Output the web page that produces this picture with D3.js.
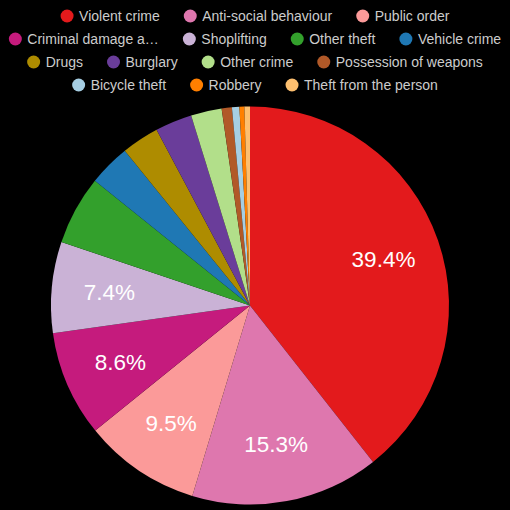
<!DOCTYPE html>
<html>
<head>
<meta charset="utf-8">
<script src="https://cdn.jsdelivr.net/npm/d3@7"></script>
<style>
  body { margin: 0; background: #000; }
  svg { display: block; }
</style>
</head>
<body>
<div id="chart"></div>
<script>
const categories = ["Violent crime", "Anti-social behaviour", "Public order", "Criminal damage and arson",
    "Shoplifting", "Other theft", "Vehicle crime", "Drugs", "Burglary", "Other crime",
    "Possession of weapons", "Bicycle theft", "Robbery", "Theft from the person"];
const shares = [39.4, 15.3, 9.5, 8.6, 7.4, 5.6, 3.4, 3.05, 3.0, 2.5, 0.83, 0.6, 0.4, 0.45];
const colours = ["#e31a1c", "#de77ae", "#fb9a99", "#c51b7d", "#cab2d6", "#33a02c", "#1f78b4",
    "#ae8c00", "#6a3d9a", "#b2df8a", "#b15928", "#a6cee3", "#ff7f00", "#fdbf6f"];

const width = 510, height = 510;
const cx = 250, cy = 305.5, radius = 199;

const data = categories.map((c, i) => ({ name: c, value: shares[i], colour: colours[i] }));

const svg = d3.select("#chart").append("svg")
    .attr("width", width)
    .attr("height", height)
    .style("background", "#000");

const pie = d3.pie().value(d => d.value).sort(null);
const arc = d3.arc().innerRadius(0).outerRadius(radius);
const labelArc = d3.arc().innerRadius(radius * 0.71).outerRadius(radius * 0.71);

const g = svg.append("g").attr("transform", `translate(${cx},${cy})`);
const arcs = pie(data);

g.selectAll("path")
    .data(arcs)
    .enter().append("path")
    .attr("d", arc)
    .attr("fill", d => d.data.colour);

g.selectAll("text")
    .data(arcs.filter(d => d.data.value > 7))
    .enter().append("text")
    .attr("transform", d => `translate(${labelArc.centroid(d)})`)
    .attr("text-anchor", "middle")
    .attr("dy", "0.35em")
    .attr("fill", "#fff")
    .attr("font-family", "Liberation Sans, Arial, sans-serif")
    .attr("font-size", "22.5px")
    .text(d => d.data.value.toFixed(1) + "%");

// legend: centred rows that wrap
const legend = svg.append("g");
const short = s => s.length > 22 ? s.slice(0, 17) + "…" : s;
const items = legend.selectAll("g.item")
    .data(data)
    .enter().append("g")
    .attr("class", "item");
items.append("circle")
    .attr("r", 6.5)
    .attr("fill", d => d.colour);
items.append("text")
    .attr("x", 12)
    .attr("dy", "0.35em")
    .attr("fill", "#ccc")
    .attr("font-family", "Liberation Sans, Arial, sans-serif")
    .attr("font-size", "14px")
    .text(d => short(d.name));

const gap = 24, maxW = 505;
const rows = [];
let row = [], rowW = 0;
items.each(function () {
    const w = 6.5 + 12 + this.querySelector("text").getComputedTextLength();
    const add = row.length ? gap + w : w;
    if (row.length && rowW + add > maxW) {
        rows.push({ row, rowW });
        row = [];
        rowW = 0;
    }
    row.push({ node: this, w });
    rowW += row.length > 1 ? gap + w : w;
});
rows.push({ row, rowW });

rows.forEach((r, ri) => {
    let x = (width - r.rowW) / 2;
    r.row.forEach(it => {
        d3.select(it.node).attr("transform", `translate(${x + 6.5},${16 + ri * 23})`);
        x += it.w + gap;
    });
});
</script>
</body>
</html>
